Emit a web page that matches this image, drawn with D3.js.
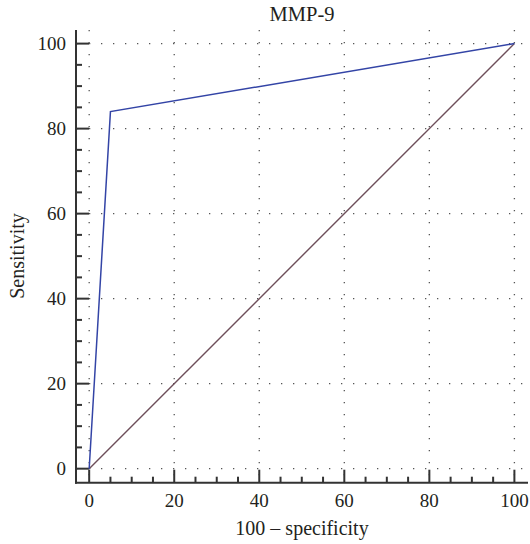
<!DOCTYPE html>
<html><head><meta charset="utf-8">
<script src="https://cdn.jsdelivr.net/npm/d3@7"></script>
<style>body{margin:0;background:#fff}svg{display:block}text{font-family:"Liberation Serif","DejaVu Serif",serif;fill:#231f20}</style>
</head><body>
<script>
const title = "MMP-9";
const xLabel = "100 \u2013 specificity";
const yLabel = "Sensitivity";
const rocX = [0, 5, 100];
const rocY = [0, 84, 100];
const refX = [0, 100];
const refY = [0, 100];
const majorTicks = [0, 20, 40, 60, 80, 100];
const minorTicks = d3.range(0, 101, 5);

const W = 530, H = 544;
const svg = d3.select("body").append("svg").attr("width", W).attr("height", H);
const x = d3.scaleLinear().domain([-3.1, 103.2]).range([76, 528]);
const y = d3.scaleLinear().domain([-3.3, 103.2]).range([482.7, 30]);

// grid
const g = svg.append("g").attr("stroke", "#555").attr("stroke-width", 1.3).attr("stroke-dasharray", "1.3 10.7");
majorTicks.forEach(t => {
  g.append("line").attr("x1", x(t)).attr("x2", x(t)).attr("y1", 30).attr("y2", 482);
  g.append("line").attr("y1", y(t)).attr("y2", y(t)).attr("x1", 77).attr("x2", 524);
});

// axes
const ax = svg.append("g").attr("stroke", "#333").attr("stroke-width", 2);
ax.append("line").attr("x1", 76).attr("x2", 76).attr("y1", 30).attr("y2", 483.7);
ax.append("line").attr("x1", 75).attr("x2", 528).attr("y1", 482.7).attr("y2", 482.7);
minorTicks.forEach(t => {
  const len = majorTicks.includes(t) ? 13 : 6;
  ax.append("line").attr("x1", x(t)).attr("x2", x(t)).attr("y1", 482.7).attr("y2", 482.7 - len);
  ax.append("line").attr("y1", y(t)).attr("y2", y(t)).attr("x1", 76).attr("x2", 76 + len);
});
majorTicks.forEach(t => {
  svg.append("text").attr("x", x(t)).attr("y", 506.5).attr("text-anchor", "middle").attr("font-size", 19).text(t);
  svg.append("text").attr("x", 66).attr("y", y(t) + 6).attr("text-anchor", "end").attr("font-size", 19).text(t);
});

// lines
const line = d3.line().x(d => x(d[0])).y(d => y(d[1]));
svg.append("path").datum(refX.map((v, i) => [v, refY[i]])).attr("d", line)
  .attr("fill", "none").attr("stroke", "#6e4f5a").attr("stroke-width", 1.4);
svg.append("path").datum(rocX.map((v, i) => [v, rocY[i]])).attr("d", line)
  .attr("fill", "none").attr("stroke", "#3344a6").attr("stroke-width", 1.5);

// labels
svg.append("text").attr("x", 302).attr("y", 21).attr("text-anchor", "middle").attr("font-size", 20.5).text(title);
svg.append("text").attr("x", 302).attr("y", 535).attr("text-anchor", "middle").attr("font-size", 20).text(xLabel);
svg.append("text").attr("transform", "translate(24,256) rotate(-90)").attr("text-anchor", "middle").attr("font-size", 20).text(yLabel);
</script>
</body></html>
